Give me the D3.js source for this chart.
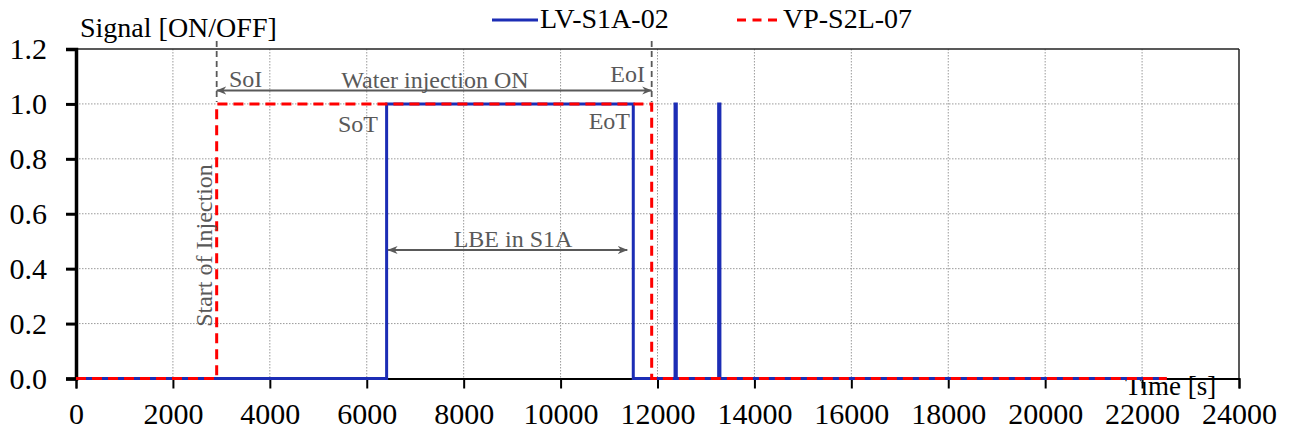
<!DOCTYPE html>
<html>
<head>
<meta charset="utf-8">
<script src="https://cdn.jsdelivr.net/npm/d3@7"></script>
<style>
  html, body { margin: 0; padding: 0; background: #fff; }
  svg { display: block; }
  text { font-family: "Liberation Serif", "Times New Roman", serif; }
</style>
</head>
<body>
<svg id="chart" width="1293" height="432"></svg>
<script>
// ---- Data ----
const xTicks = [0, 2000, 4000, 6000, 8000, 10000, 12000, 14000, 16000, 18000, 20000, 22000, 24000];
const yTicks = [0.0, 0.2, 0.4, 0.6, 0.8, 1.0, 1.2];
const seriesNames = ["LV-S1A-02", "VP-S2L-07"];
const lvTime  = [0, 6410, 6410, 11500, 11500, 12362, 12362, 12388, 12388, 13262, 13262, 13288, 13288, 22500];
const lvValue = [0, 0,    1,    1,     0,     0,     1,     1,     0,     0,     1,     1,     0,     0];
const vpTime  = [0, 2903, 2903, 11880, 11880, 22510];
const vpValue = [0, 0,    1,    1,     0,     0];
const eventTimes = { SoI: 2903, EoI: 11880, SoT: 6410, EoT: 11500 };

// ---- Layout ----
const svg = d3.select("#chart");
const L = 76, R = 1239, T = 49, B = 378.5;
const x = d3.scaleLinear().domain([0, 24000]).range([L, R]);
const y = d3.scaleLinear().domain([0, 1.2]).range([B, T]);
const grey = "#595959";

// grid
const grid = svg.append("g");
grid.selectAll("line.gx").data(xTicks.slice(1, -1)).enter().append("line")
  .attr("x1", d => x(d)).attr("x2", d => x(d)).attr("y1", T).attr("y2", B)
  .attr("stroke", "#9a9a9a").attr("stroke-width", 1).attr("stroke-dasharray", "1.5,1.5");
grid.selectAll("line.gy").data(yTicks.slice(1, -1)).enter().append("line")
  .attr("x1", L).attr("x2", R).attr("y1", d => y(d)).attr("y2", d => y(d))
  .attr("stroke", "#9a9a9a").attr("stroke-width", 1).attr("stroke-dasharray", "1.5,1.5");

// frame top/right
svg.append("line").attr("x1", L).attr("x2", R).attr("y1", T).attr("y2", T)
  .attr("stroke", "#222").attr("stroke-width", 1.5);
svg.append("line").attr("x1", R).attr("x2", R).attr("y1", T).attr("y2", B)
  .attr("stroke", "#222").attr("stroke-width", 1.5);

// axes
const xAxis = d3.axisBottom(x).tickValues(xTicks).tickFormat(d3.format("d")).tickSize(10).tickPadding(14);
const gx = svg.append("g").attr("transform", `translate(0,${B})`).call(xAxis);
gx.attr("font-family", null);
gx.select(".domain").attr("stroke", "#000").attr("stroke-width", 2);
gx.selectAll(".tick line").attr("stroke", "#000").attr("stroke-width", 2);
gx.selectAll(".tick text").attr("font-size", 30).attr("fill", "#000")
  .style("font-family", '"Liberation Serif", serif');

const yAxis = d3.axisLeft(y).tickValues(yTicks).tickFormat(d3.format(".1f")).tickSize(10).tickPadding(19);
const gy = svg.append("g").attr("transform", `translate(${L},0)`).call(yAxis);
gy.attr("font-family", null);
gy.select(".domain").attr("stroke", "#000").attr("stroke-width", 3.5);
gy.selectAll(".tick line").attr("stroke", "#000").attr("stroke-width", 3);
gy.selectAll(".tick text").attr("font-size", 30).attr("fill", "#000")
  .style("font-family", '"Liberation Serif", serif');

// axis titles
svg.append("text").attr("x", 80).attr("y", 37).attr("font-size", 28).attr("fill", "#000").text("Signal [ON/OFF]");
svg.append("text").attr("x", 1125).attr("y", 395).attr("font-size", 27).attr("fill", "#000").text("Time [s]");

// markers
const defs = svg.append("defs");
defs.append("marker").attr("id", "ah").attr("viewBox", "0 0 10 10").attr("refX", 9.5).attr("refY", 5)
  .attr("markerWidth", 10).attr("markerHeight", 10).attr("markerUnits", "userSpaceOnUse")
  .attr("orient", "auto-start-reverse")
  .append("path").attr("d", "M0,1 L10,5 L0,9 L3,5 Z").attr("fill", grey);

// event dashed lines (SoI, EoI)
[eventTimes.SoI, eventTimes.EoI].forEach(t => {
  svg.append("line").attr("x1", x(t)).attr("x2", x(t)).attr("y1", 41).attr("y2", y(1) - 2)
    .attr("stroke", grey).attr("stroke-width", 1.8).attr("stroke-dasharray", "6,4");
});

// data lines
const line = d3.line().x(d => x(d[0])).y(d => y(d[1]));
svg.append("path").datum(lvTime.map((t, i) => [t, lvValue[i]]))
  .attr("d", line).attr("fill", "none").attr("stroke", "#1c2db5").attr("stroke-width", 3);
svg.append("path").datum(vpTime.map((t, i) => [t, vpValue[i]]))
  .attr("d", line).attr("fill", "none").attr("stroke", "#ff0000").attr("stroke-width", 3)
  .attr("stroke-dasharray", "10,6");

// annotations
const ann = svg.append("g").attr("fill", grey).attr("font-size", 24);
svg.append("line").attr("x1", x(eventTimes.SoI)).attr("x2", x(eventTimes.EoI)).attr("y1", 90.5).attr("y2", 90.5)
  .attr("stroke", grey).attr("stroke-width", 1.8)
  .attr("marker-start", "url(#ah)").attr("marker-end", "url(#ah)");
svg.append("line").attr("x1", x(eventTimes.SoT) + 1.5).attr("x2", x(eventTimes.EoT) - 6).attr("y1", 250).attr("y2", 250)
  .attr("stroke", grey).attr("stroke-width", 1.8)
  .attr("marker-start", "url(#ah)").attr("marker-end", "url(#ah)");
ann.append("text").attr("x", 229).attr("y", 87).text("SoI");
ann.append("text").attr("x", 645).attr("y", 82).attr("text-anchor", "end").text("EoI");
ann.append("text").attr("x", 435).attr("y", 88).attr("text-anchor", "middle").text("Water injection ON");
ann.append("text").attr("x", 378).attr("y", 132).attr("text-anchor", "end").text("SoT");
ann.append("text").attr("x", 630).attr("y", 129).attr("text-anchor", "end").text("EoT");
ann.append("text").attr("x", 513).attr("y", 247).attr("text-anchor", "middle").text("LBE in S1A");
ann.append("text").attr("transform", "translate(212,245.5) rotate(-90)").attr("text-anchor", "middle").text("Start of Injection");

// legend
const lg = svg.append("g");
lg.append("line").attr("x1", 492).attr("x2", 538).attr("y1", 20).attr("y2", 20)
  .attr("stroke", "#1c2db5").attr("stroke-width", 3);
lg.append("text").attr("x", 540).attr("y", 28).attr("font-size", 28).attr("fill", "#000").text(seriesNames[0]);
lg.append("line").attr("x1", 737).attr("x2", 782).attr("y1", 20).attr("y2", 20)
  .attr("stroke", "#ff0000").attr("stroke-width", 3).attr("stroke-dasharray", "9,6.5");
lg.append("text").attr("x", 783).attr("y", 28).attr("font-size", 28).attr("fill", "#000").text(seriesNames[1]);
</script>
</body>
</html>
